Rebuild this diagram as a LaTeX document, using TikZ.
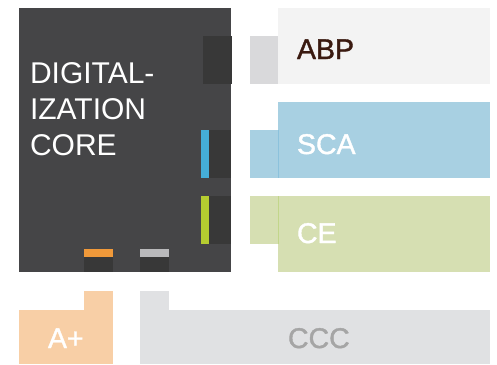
\documentclass[tikz,border=0pt]{standalone}
\usepackage{fontspec}
\setmainfont{Liberation Sans}
\newfontfamily\medfont[FakeBold=1.3]{Liberation Sans}
\definecolor{coreC}{HTML}{454547}
\definecolor{tabC}{HTML}{383838}
\definecolor{abpC}{HTML}{F3F3F3}
\definecolor{abpTab}{HTML}{D9D9DB}
\definecolor{abpText}{HTML}{3A1A10}
\definecolor{scaC}{HTML}{A8D0E2}
\definecolor{scaStrip}{HTML}{45AED8}
\definecolor{scaLine}{HTML}{8CC2DC}
\definecolor{ceC}{HTML}{D6DFB2}
\definecolor{ceStrip}{HTML}{B5CC30}
\definecolor{ceLine}{HTML}{C2D68A}
\definecolor{apC}{HTML}{F8CFA6}
\definecolor{apStrip}{HTML}{F0993A}
\definecolor{cccC}{HTML}{E0E1E3}
\definecolor{cccStrip}{HTML}{B9B9BB}
\definecolor{cccText}{HTML}{A5A5A5}
\begin{document}
\begin{tikzpicture}[x=1pt,y=-1pt,
  blk/.style={draw=none,inner sep=0pt,outer sep=0pt,anchor=north west},
  lbl/.style={inner sep=0pt,outer sep=0pt,anchor=base west,font=\medfont\fontsize{28.5}{34}\selectfont}]
\useasboundingbox (0,0) rectangle (497,364);
% core
\node[blk,fill=coreC,minimum width=212pt,minimum height=264pt] (core) at (19,8) {};
\node[inner sep=0pt,outer sep=0pt,anchor=north west,align=left,text=white,
  font=\fontsize{30}{36}\selectfont] (coretxt) at (30,62.5) {DIGITAL-\\IZATION\\CORE};
% ABP
\node[blk,fill=abpC,minimum width=212pt,minimum height=76pt] (abp) at (278,8) {};
\node[blk,fill=abpTab,minimum width=28pt,minimum height=48pt] (abptab) at (250,36) {};
\node[blk,fill=tabC,minimum width=29pt,minimum height=48pt] (abpdark) at (203,36) {};
\node[lbl,text=abpText] (abptxt) at (297,59) {ABP};
% SCA
\node[blk,fill=scaC,minimum width=212pt,minimum height=76pt] (sca) at (278,102) {};
\node[blk,fill=scaC,minimum width=28pt,minimum height=48pt] (scatab) at (250,130) {};
\node[blk,fill=tabC,minimum width=22pt,minimum height=48pt] (scadark) at (209,130) {};
\node[blk,fill=scaStrip,minimum width=8pt,minimum height=48pt] (scastrip) at (201,130) {};
\draw[scaLine,line width=0.7pt] (scatab.north east) -- (scatab.south east);
\node[lbl,text=white] (scatxt) at (297,154) {SCA};
% CE
\node[blk,fill=ceC,minimum width=212pt,minimum height=76pt] (ce) at (278,196) {};
\node[blk,fill=ceC,minimum width=28pt,minimum height=48pt] (cetab) at (250,196) {};
\node[blk,fill=tabC,minimum width=22pt,minimum height=48pt] (cedark) at (209,196) {};
\node[blk,fill=ceStrip,minimum width=8pt,minimum height=48pt] (cestrip) at (201,196) {};
\draw[ceLine,line width=0.7pt] (cetab.north east) -- (cetab.south east);
\node[lbl,text=white] (cetxt) at (297,243) {CE};
% A+
\node[blk,fill=apC,minimum width=94pt,minimum height=54pt] (ap) at (19,310) {};
\node[blk,fill=apC,minimum width=29pt,minimum height=19.5pt] (aptab) at (84,291) {};
\node[blk,fill=tabC,minimum width=29pt,minimum height=15pt] (apdark) at (84,257) {};
\node[blk,fill=apStrip,minimum width=29pt,minimum height=8pt] (apstrip) at (84,249) {};
\node[lbl,text=white] (aptxt) at (48,348) {A+};
% CCC
\node[blk,fill=cccC,minimum width=350pt,minimum height=54pt] (ccc) at (140,310) {};
\node[blk,fill=cccC,minimum width=29pt,minimum height=19.5pt] (ccctab) at (140,291) {};
\node[blk,fill=tabC,minimum width=29pt,minimum height=15pt] (cccdark) at (140,257) {};
\node[blk,fill=cccStrip,minimum width=29pt,minimum height=8pt] (cccstrip) at (140,249) {};
\node[lbl,text=cccText] (ccctxt) at (288,348) {CCC};
\end{tikzpicture}
\end{document}
